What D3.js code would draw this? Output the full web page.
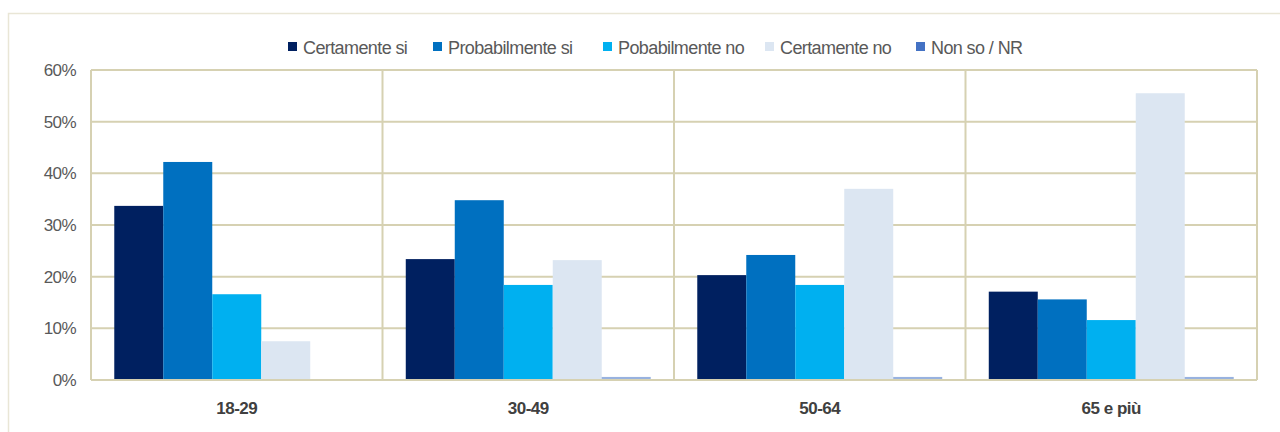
<!DOCTYPE html>
<html><head><meta charset="utf-8">
<script src="https://cdn.jsdelivr.net/npm/d3@7"></script>
<style>body{margin:0;background:#fff}svg{display:block}</style>
</head><body>
<svg id="c" width="1280" height="432"></svg>
<script>
const categories = ["18-29", "30-49", "50-64", "65 e più"];
const seriesNames = ["Certamente si", "Probabilmente si", "Pobabilmente no", "Certamente no", "Non so / NR"];
const certamenteSi = [33.7, 23.4, 20.3, 17.1];
const probabilmenteSi = [42.2, 34.8, 24.2, 15.6];
const pobabilmenteNo = [16.6, 18.4, 18.4, 11.6];
const certamenteNo = [7.5, 23.2, 37.0, 55.5];
const nonSo = [0, 0.4, 0.4, 0.4];
const yTicks = [0, 10, 20, 30, 40, 50, 60];
const colors = ["#002060", "#0070C0", "#00B0F0", "#DCE6F2", "#4472C4"];
const seriesValues = [certamenteSi, probabilmenteSi, pobabilmenteNo, certamenteNo, nonSo];

const svg = d3.select("#c");
const m = {l: 91, r: 1257, t: 70, b: 380};
const grid = "#D6D1B2";
const font = "Liberation Sans, Arial, sans-serif";

// outer frame
svg.append("rect").attr("x", 8.5).attr("y", 13.5).attr("width", 1300).attr("height", 500)
  .attr("fill", "none").attr("stroke", "#E9E6D6").attr("stroke-width", 1.5);

const x0 = d3.scaleBand().domain(categories).range([m.l, m.r]).paddingInner(0).paddingOuter(0);
const x1 = d3.scaleBand().domain(seriesNames).range([0, x0.bandwidth()]).paddingInner(0).paddingOuter(0.475);
const y = d3.scaleLinear().domain([0, 60]).range([m.b, m.t]);

// horizontal gridlines
svg.append("g").selectAll("line").data(yTicks).join("line")
  .attr("x1", m.l).attr("x2", m.r).attr("y1", d => y(d)).attr("y2", d => y(d))
  .attr("stroke", grid).attr("stroke-width", 2);
// vertical category lines
const bounds = categories.map(c => x0(c)).concat([m.r]);
svg.append("g").selectAll("line").data(bounds).join("line")
  .attr("x1", d => d).attr("x2", d => d).attr("y1", m.t).attr("y2", m.b)
  .attr("stroke", grid).attr("stroke-width", 2);

// bars
const data = [];
categories.forEach((c, i) => seriesNames.forEach((s, j) => data.push({c, s, j, v: seriesValues[j][i]})));
svg.append("g").selectAll("rect").data(data).join("rect")
  .attr("x", d => x0(d.c) + x1(d.s))
  .attr("width", x1.bandwidth())
  .attr("y", d => y(d.v) - (d.j === 4 && d.v > 0 ? 1 : 0))
  .attr("height", d => y(0) - y(d.v) + (d.j === 4 && d.v > 0 ? 1 : 0))
  .attr("fill", d => colors[d.j])
  .attr("opacity", d => d.j === 4 ? 0.55 : 1);

// redraw baseline on top
svg.append("line").attr("x1", m.l).attr("x2", m.r).attr("y1", y(0)).attr("y2", y(0))
  .attr("stroke", grid).attr("stroke-width", 2);

// y labels
svg.append("g").selectAll("text").data(yTicks).join("text")
  .attr("x", 76).attr("y", d => y(d) + 6)
  .attr("text-anchor", "end")
  .attr("font-family", font)
  .attr("font-size", 17).attr("letter-spacing", "-0.6")
  .attr("fill", "#595959").text(d => d + "%");

// category labels
svg.append("g").selectAll("text").data(categories).join("text")
  .attr("x", d => x0(d) + x0.bandwidth() / 2).attr("y", 414)
  .attr("text-anchor", "middle")
  .attr("font-family", font)
  .attr("font-size", 17).attr("font-weight", "bold").attr("letter-spacing", "-0.5")
  .attr("fill", "#404040").text(d => d);

// legend
const legX = [288, 433, 603, 765, 916];
const leg = svg.append("g").selectAll("g").data(seriesNames).join("g")
  .attr("transform", (d, i) => `translate(${legX[i]},0)`);
leg.append("rect").attr("x", 0).attr("y", 42).attr("width", 9).attr("height", 9)
  .attr("fill", (d, i) => colors[i]);
leg.append("text").attr("x", 15).attr("y", 54)
  .attr("font-family", font)
  .attr("font-size", 18).attr("letter-spacing", "-0.6")
  .attr("fill", "#595959").text(d => d);
</script>
</body></html>
